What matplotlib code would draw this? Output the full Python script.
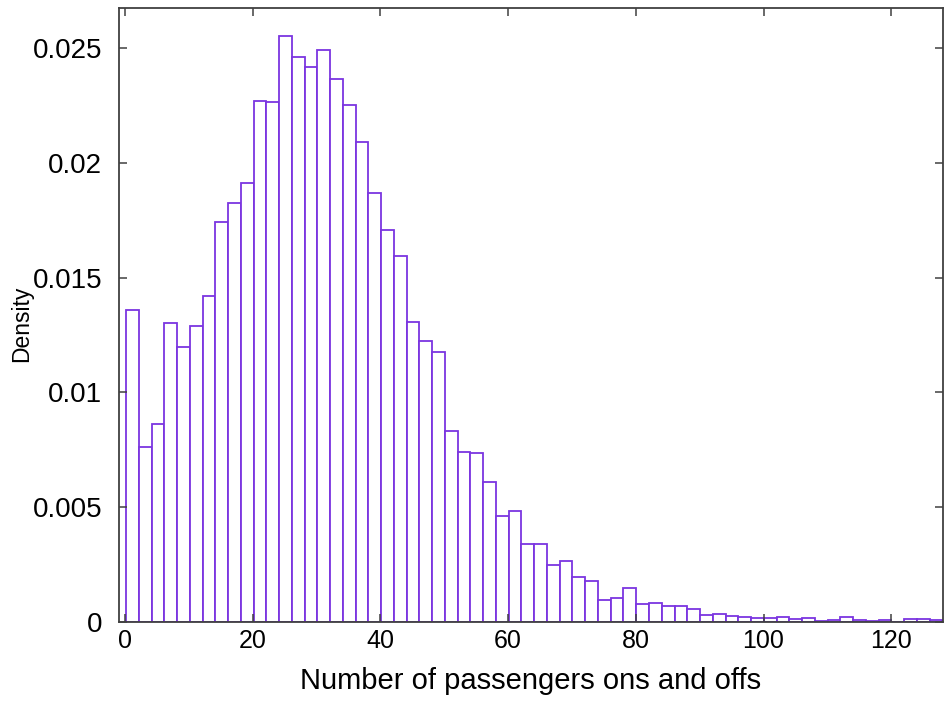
import numpy as np
import matplotlib
matplotlib.use("Agg")
import matplotlib.pyplot as plt
from matplotlib.ticker import FuncFormatter

# ---- data ----
bin_first_edge = 0.2
bin_last_edge = 128.0
density = [
    0.01359, 0.00763, 0.00861, 0.01301, 0.01199, 0.01291, 0.01420, 0.01742,
    0.01825, 0.01913, 0.02270, 0.02265, 0.02552, 0.02459, 0.02418, 0.02490,
    0.02365, 0.02251, 0.02090, 0.01867, 0.01706, 0.01593, 0.01307, 0.01222,
    0.01176, 0.00830, 0.00742, 0.00735, 0.00611, 0.00462, 0.00485, 0.00341,
    0.00341, 0.00248, 0.00266, 0.00196, 0.00177, 0.00094, 0.00106, 0.00148,
    0.00078, 0.00082, 0.00071, 0.00071, 0.00058, 0.00030, 0.00034, 0.00027,
    0.00021, 0.00016, 0.00016, 0.00022, 0.00012, 0.00016, 0.00006, 0.00010,
    0.00020, 0.00010, 0.00006, 0.00010, 0.00002, 0.00012, 0.00012, 0.00008,
]
x_ticks = [0, 20, 40, 60, 80, 100, 120]
y_ticks = [0, 0.005, 0.01, 0.015, 0.02, 0.025]
x_label = "Number of passengers ons and offs"
y_label = "Density"

edges = np.linspace(bin_first_edge, bin_last_edge, len(density) + 1)

plt.rcParams['font.family'] = ['Liberation Sans', 'DejaVu Sans']

fig = plt.figure(figsize=(9.48, 7.07), dpi=100)
ax = fig.add_axes([119 / 948, 85 / 707, (943 - 119) / 948, (622 - 8.5) / 707])

ax.bar(edges[:-1], density, width=np.diff(edges), align='edge',
       facecolor='white', edgecolor='#7B35E0', linewidth=1.3)

ax.set_xlim(-0.9, 128.1)
ax.set_ylim(0, 0.02672)
ax.set_xticks(x_ticks)
ax.set_yticks(y_ticks)
ax.yaxis.set_major_formatter(FuncFormatter(lambda v, p: "%g" % v))

for s in ax.spines.values():
    s.set_color('#404040')
    s.set_linewidth(1.3)
ax.tick_params(direction='in', length=6, width=1.1, color='#404040',
               top=True, right=True)
ax.tick_params(axis='x', labelsize=18, pad=5)
ax.tick_params(axis='y', labelsize=20, pad=12)

ax.set_xlabel(x_label, fontsize=21, labelpad=10)
ax.set_ylabel(y_label, fontsize=16.5)
ax.yaxis.set_label_coords(-0.104, 0.486)

fig.savefig("out.png", dpi=100)
